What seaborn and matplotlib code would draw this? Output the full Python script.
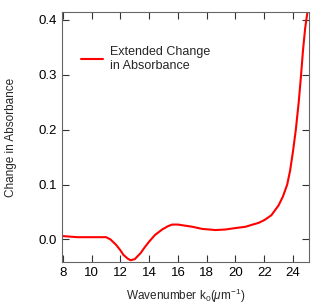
import pandas as pd
import seaborn as sns
import matplotlib.pyplot as plt

wavenumber = [8.0, 8.5, 9.0, 10.0, 10.5, 11.0, 11.3, 11.7, 12.0, 12.2, 12.5, 12.7, 13.0,
              13.4, 13.7, 14.0, 14.4, 14.9, 15.3, 15.6, 16.0, 16.5, 17.0, 17.7, 18.2,
              18.6, 19.3, 20.1, 20.7, 21.2, 21.6, 22.0, 22.5, 23.0, 23.3, 23.6, 23.8,
              24.0, 24.2, 24.4, 24.55, 24.7, 24.85, 25.0]
absorbance = [0.006, 0.005, 0.004, 0.004, 0.004, 0.004, 0.0, -0.01, -0.02, -0.028, -0.035,
              -0.038, -0.036, -0.025, -0.014, -0.004, 0.008, 0.018, 0.024, 0.027, 0.027,
              0.025, 0.023, 0.019, 0.018, 0.017, 0.018, 0.021, 0.023, 0.027, 0.030, 0.035,
              0.044, 0.062, 0.078, 0.100, 0.125, 0.160, 0.200, 0.250, 0.295, 0.345, 0.385,
              0.413]

df = pd.DataFrame({"k0": wavenumber, "dA": absorbance})

sns.set_style("ticks")
plt.rcParams["font.family"] = ["Liberation Sans", "DejaVu Sans"]
plt.rcParams["mathtext.fontset"] = "custom"
plt.rcParams["mathtext.it"] = "Liberation Sans:italic"
plt.rcParams["mathtext.rm"] = "Liberation Sans"

fig, ax = plt.subplots(figsize=(3.31, 3.07), dpi=100)
fig.subplots_adjust(left=0.188, right=0.935, top=0.96, bottom=0.147)

sns.lineplot(data=df, x="k0", y="dA", color="red", linewidth=1.5,
             label="Extended Change\nin Absorbance", ax=ax)

ax.set_xlim(7.95, 25.15)
ax.set_ylim(-0.041, 0.414)
ax.set_xticks(range(8, 25, 2))
ax.set_yticks([0.0, 0.1, 0.2, 0.3, 0.4])
ax.set_yticklabels(["0.0", "0.1", "0.2", "0.3", "0.4"])
ax.tick_params(direction="in", top=True, right=True, length=5, width=0.8,
               labelsize=9.5, colors="#333333", labelcolor="black")
for s in ax.spines.values():
    s.set_color("#666666")
    s.set_linewidth(0.8)

ax.set_xlabel("Wavenumber k$_0$($\\mu$m$^{-1}$)", fontsize=8.5, labelpad=6)
ax.set_ylabel("Change in Absorbance", fontsize=8.5, labelpad=16)

ax.legend(loc="upper left", bbox_to_anchor=(0.03, 0.91), frameon=False, fontsize=9,
          handlelength=1.8, handletextpad=0.5)

fig.savefig("out.png", dpi=100)
